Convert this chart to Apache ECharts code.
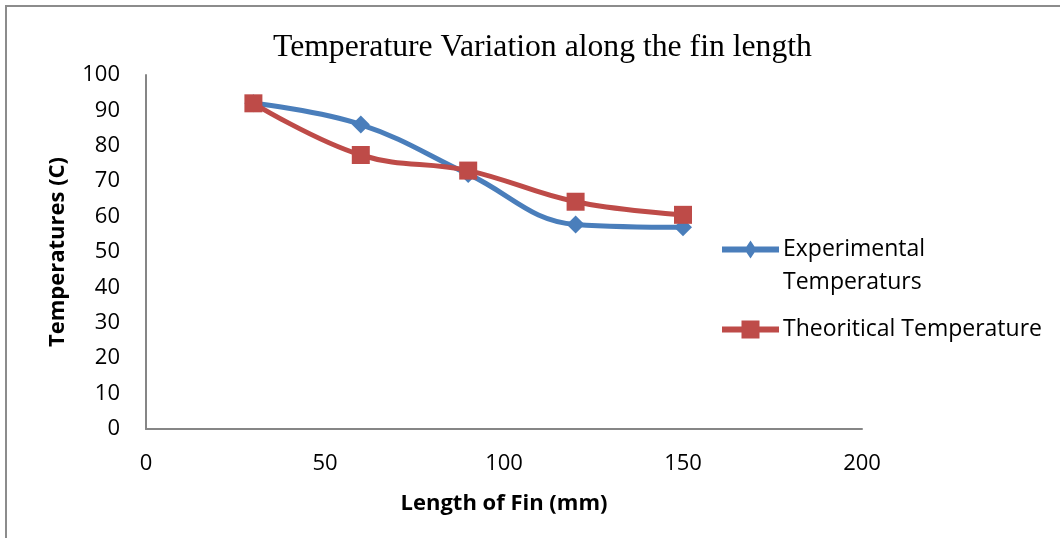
<!DOCTYPE html>
<html><head><meta charset="utf-8">
<script src="https://cdn.jsdelivr.net/npm/echarts@6/dist/echarts.min.js"></script>
<style>html,body{margin:0;padding:0;background:#fff}#c{width:1060px;height:538px}</style>
</head><body><div id="c"></div>
<script>
const lengths = [30, 60, 90, 120, 150];
const experimental = [92, 86, 72, 57.8, 57];
const theoretical = [92, 77.4, 73, 64.2, 60.5];
const seriesNames = ['Experimental Temperaturs', 'Theoritical Temperature'];
const titleText = 'Temperature Variation along the fin length';
const xName = 'Length of Fin (mm)';
const yName = 'Temperatures (C)';

const font = 'Open Sans';
const blue = '#4a7ebb', red = '#be4b48';
const chart = echarts.init(document.getElementById('c'), null, {renderer: 'canvas'});
const pair = (xs, ys) => xs.map((x, i) => [x, ys[i]]);
chart.setOption({
  animation: false,
  backgroundColor: '#fff',
  graphic: [{
    type: 'rect', shape: {x: 6, y: 6, width: 1200, height: 700},
    style: {fill: 'none', stroke: '#8c8c8c', lineWidth: 2}, silent: true
  }],
  title: {
    text: titleText, left: 268, top: 27,
    textStyle: {fontFamily: 'Liberation Serif', fontSize: 31.7, fontWeight: 'normal', color: '#000'}
  },
  grid: {left: 146, right: 198, top: 75, bottom: 109, containLabel: false},
  legend: {
    orient: 'vertical', left: 722, top: 200, padding: 0,
    itemWidth: 57, itemHeight: 18, itemGap: 14,
    formatter: n => n === seriesNames[0] ? '\nExperimental\nTemperaturs' : n,
    textStyle: {fontFamily: font, fontSize: 23, color: '#000', lineHeight: 33, padding: [0, 0, 0, -1]},
    data: [
      {name: seriesNames[0], icon: 'path://M0,6H57V12H0Z M28.5,0L34.5,9L28.5,18L22.5,9Z', itemStyle: {color: blue}},
      {name: seriesNames[1], icon: 'path://M0,6H57V12H0Z M19.5,0H37.5V18H19.5Z', itemStyle: {color: red}}
    ]
  },
  xAxis: {
    type: 'value', min: 0, max: 200, interval: 50,
    name: xName, nameLocation: 'middle', nameGap: 64,
    nameTextStyle: {fontFamily: font, fontSize: 22, fontWeight: 'bold', color: '#000'},
    axisLine: {show: true, lineStyle: {color: '#868686', width: 2}},
    axisTick: {show: false}, splitLine: {show: false},
    axisLabel: {fontFamily: font, fontSize: 22, color: '#000', margin: 24}
  },
  yAxis: {
    type: 'value', min: 0, max: 100, interval: 10,
    name: yName, nameLocation: 'middle', nameGap: 77, nameRotate: 90,
    nameTextStyle: {fontFamily: font, fontSize: 22, fontWeight: 'bold', color: '#000'},
    axisLine: {show: true, lineStyle: {color: '#868686', width: 2}},
    axisTick: {show: false}, splitLine: {show: false},
    axisLabel: {fontFamily: font, fontSize: 22, color: '#000', margin: 26}
  },
  series: [{
    name: seriesNames[0], type: 'line', smooth: 0.4,
    data: pair(lengths, experimental),
    symbol: 'diamond', symbolSize: 18,
    lineStyle: {color: blue, width: 5},
    itemStyle: {color: blue}
  }, {
    name: seriesNames[1], type: 'line', smooth: 0.4,
    data: pair(lengths, theoretical),
    symbol: 'rect', symbolSize: 18,
    lineStyle: {color: red, width: 5},
    itemStyle: {color: red}
  }]
});
</script></body></html>
